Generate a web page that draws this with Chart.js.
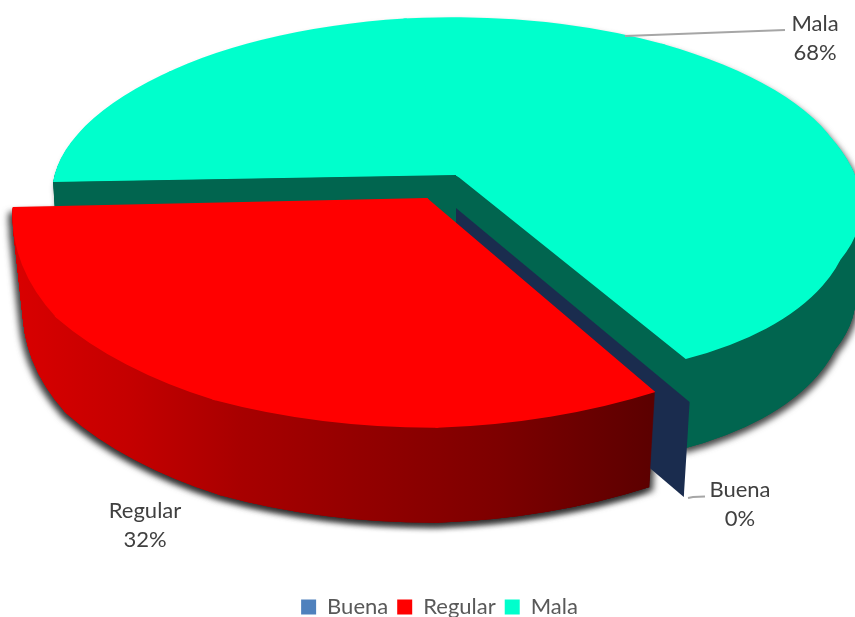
<!DOCTYPE html>
<html><head><meta charset="utf-8">
<style>html,body{margin:0;padding:0;width:855px;height:617px;overflow:hidden;background:#fff}canvas{display:block}</style>
<script src="https://cdn.jsdelivr.net/npm/chart.js@4"></script></head>
<body><canvas id="c" width="855" height="628"></canvas>
<script>
const categories = ['Buena', 'Regular', 'Mala'];
const values = [0, 32, 68];
const faceColors = ['#4f81bd', '#ff0000', '#00ffcc'];
const wallColors = ['#1a2c4e', null, '#01654f'];
const labelPlaces = [[740, 490], [145, 511], [815, 24]];
// apex of each exploded slice and the perspective ellipse of its rim (degrees along the rim)
const views = {
  1: {ax: 427, ay: 198, cx: -5, cy: 27, a: 411, b: 203, from: 55.4, to: 185.1, pieces: 4, depth: 95, shrink: 0.025},
  2: {ax: 456, ay: 175, cx: -2, cy: 30, a: 404, b: 188, from: 187, to: 415, pieces: 6, depth: 90, shrink: 0.014}
};
const redStops = [[20,'#d80000'],[130,'#c40000'],[240,'#a80000'],[350,'#950000'],[500,'#7d0000'],[650,'#5c0000']];

function rimPoint(v, j) {
  const t = (v.from + (v.to - v.from) * j / v.pieces) * Math.PI / 180;
  return [v.cx + v.a * Math.cos(t), v.cy + v.b * Math.sin(t)];
}
function solve(P, Q, a0, a1) {
  const u0=[Math.cos(a0),Math.sin(a0)], u1=[Math.cos(a1),Math.sin(a1)];
  const det=u0[0]*u1[1]-u1[0]*u0[1];
  const inv=[u1[1]/det,-u1[0]/det,-u0[1]/det,u0[0]/det];
  return [P[0]*inv[0]+Q[0]*inv[2], P[0]*inv[1]+Q[0]*inv[3],
          P[1]*inv[0]+Q[1]*inv[2], P[1]*inv[1]+Q[1]*inv[3]];
}
function layer(ctx, arc, v, d) {
  const p = arc.getProps(['startAngle', 'endAngle']);
  const step = (p.endAngle - p.startAngle) / v.pieces, R = arc.outerRadius;
  const s = 1 - v.shrink * d / v.depth;
  for (let j = 0; j < v.pieces; j++) {
    const P = rimPoint(v, j), Q = rimPoint(v, j + 1);
    const M = solve(P, Q, p.startAngle + j*step, p.startAngle + (j+1)*step);
    const c = Math.cos(0.006), n = Math.sin(0.006);
    // the wedge reaches slightly behind the apex so that neighbouring wedges overlap
    const mx = P[0] + Q[0], my = P[1] + Q[1], ml = Math.hypot(mx, my) || 1;
    ctx.save();
    ctx.translate(v.ax, v.ay + d);
    ctx.scale(s, 1);
    ctx.beginPath();
    ctx.moveTo(-4*mx/ml, -4*my/ml);
    ctx.lineTo(P[0]*1.7, P[1]*1.7);
    ctx.lineTo((Q[0]*c - Q[1]*n)*1.7, (Q[0]*n + Q[1]*c)*1.7);
    ctx.closePath();
    ctx.clip();
    ctx.transform(M[0]/R, M[2]/R, M[1]/R, M[3]/R, 0, 0);
    ctx.translate(-arc.x, -arc.y);
    arc.draw(ctx);
    ctx.restore();
  }
}
function wallImage(chart, arc, v, paint) {
  const off = document.createElement('canvas');
  off.width = chart.canvas.width; off.height = chart.canvas.height;
  const o = off.getContext('2d'), r = chart.currentDevicePixelRatio || 1;
  o.scale(r, r);
  for (let d = v.depth; d >= 1; d--) layer(o, arc, v, d);
  o.globalCompositeOperation = 'source-in';
  o.fillStyle = paint(o);
  o.fillRect(0, 0, chart.width, chart.height);
  return off;
}
const pie3d = {
  id: 'pie3d',
  beforeDatasetsDraw(chart) {
    const ctx = chart.ctx, arcs = chart.getDatasetMeta(0).data;
    const r = chart.currentDevicePixelRatio || 1;
    const walls = {};
    [1, 2].forEach(i => {
      walls[i] = wallImage(chart, arcs[i], views[i], o => {
        if (wallColors[i]) return wallColors[i];
        const g = o.createLinearGradient(20, 0, 650, 0);
        redStops.forEach(st => g.addColorStop((st[0]-20)/630, st[1]));
        return g;
      });
    });
    const blit = (img, ox) => {
      ctx.save(); ctx.setTransform(1,0,0,1,0,0);
      if (ox !== undefined) { ctx.shadowColor = 'rgba(40,40,40,0.85)'; ctx.shadowBlur = 6*r; ctx.shadowOffsetX = ox*r; ctx.shadowOffsetY = 4*r; }
      ctx.drawImage(img, 0, 0); ctx.restore();
    };
    blit(walls[2], 3); blit(walls[1], -4); blit(walls[1], 4);
    blit(walls[2]);
    layer(ctx, arcs[2], views[2], 0);
    // zero slice: only its radial face is visible, at the rim angle shared with Mala's end
    const rim = rimPoint(views[2], views[2].pieces);
    const ex = rim[0]*1.017, ey = rim[1]*1.054;
    const bx = 456, by = 208, s = 1 - views[1].shrink, dp = views[1].depth;
    ctx.save(); ctx.fillStyle = wallColors[0]; ctx.beginPath();
    ctx.moveTo(bx, by); ctx.lineTo(bx+ex, by+ey); ctx.lineTo(bx+ex*s, by+ey+dp); ctx.lineTo(bx, by+dp);
    ctx.closePath(); ctx.fill(); ctx.restore();
    blit(walls[1]);
    layer(ctx, arcs[1], views[1], 0);
    return false;
  },
  afterDraw(chart) {
    const ctx = chart.ctx;
    ctx.save();
    ctx.strokeStyle = '#a6a6a6'; ctx.lineWidth = 2;
    ctx.beginPath(); ctx.moveTo(625, 36); ctx.lineTo(785, 30); ctx.stroke();
    ctx.beginPath(); ctx.moveTo(688, 498); ctx.lineTo(693, 497); ctx.lineTo(705, 496.5); ctx.stroke();
    ctx.fillStyle = '#404040'; ctx.font = '22px Lato'; ctx.textAlign = 'center'; ctx.textBaseline = 'middle';
    categories.forEach((c, i) => {
      ctx.fillText(c, labelPlaces[i][0], labelPlaces[i][1]);
      ctx.fillText(values[i] + '%', labelPlaces[i][0], labelPlaces[i][1] + 29);
    });
    ctx.restore();
  }
};
new Chart(document.getElementById('c'), {
  type: 'pie',
  data: {labels: categories, datasets: [{data: values, backgroundColor: faceColors, borderWidth: 0}]},
  options: {
    responsive: false, animation: false, rotation: 150,
    layout: {padding: {left: 24}},
    plugins: {
      tooltip: {enabled: false},
      legend: {position: 'bottom', labels: {boxWidth: 15, boxHeight: 15, padding: 9, color: '#595959', font: {family: 'Lato', size: 22}}}
    }
  },
  plugins: [pie3d]
});
</script></body></html>
